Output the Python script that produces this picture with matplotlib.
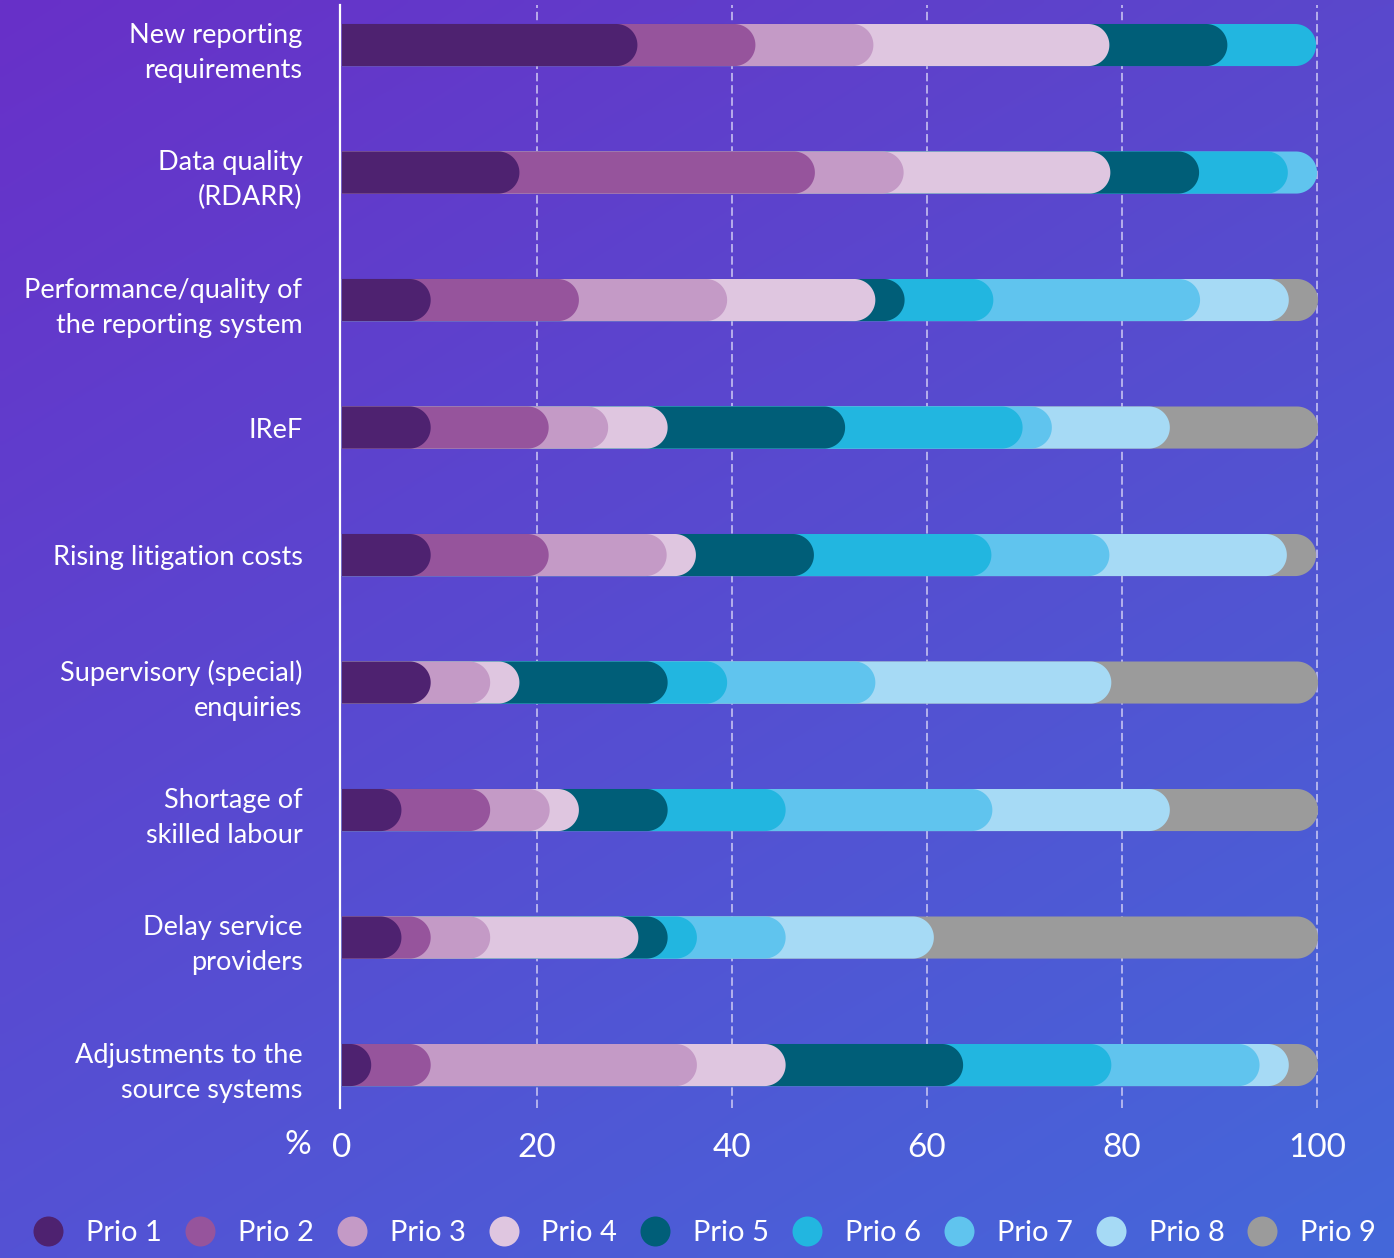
import numpy as np
import matplotlib
matplotlib.use("Agg")
import matplotlib.pyplot as plt
from matplotlib.patches import Polygon
from matplotlib.lines import Line2D
from matplotlib.transforms import ScaledTranslation

# ---- data: share of answers per priority rank (%) ----
categories = [
    "New reporting\nrequirements",
    "Data quality\n(RDARR)",
    "Performance/quality of\nthe reporting system",
    "IReF",
    "Rising litigation costs",
    "Supervisory (special)\nenquiries",
    "Shortage of\nskilled labour",
    "Delay service\nproviders",
    "Adjustments to the\nsource systems",
]
series_labels = ["Prio 1", "Prio 2", "Prio 3", "Prio 4", "Prio 5",
                 "Prio 6", "Prio 7", "Prio 8", "Prio 9"]

prio1 = [30.3, 18.2, 9.1, 9.1, 9.1, 9.1, 6.1, 6.1, 3.0]
prio2 = [12.1, 30.3, 15.2, 12.1, 12.1, 0.0, 9.1, 3.0, 6.1]
prio3 = [12.1, 9.1, 15.2, 6.1, 12.1, 6.1, 6.1, 6.1, 27.3]
prio4 = [24.2, 21.2, 15.2, 6.1, 3.0, 3.0, 3.0, 15.2, 9.1]
prio5 = [12.1, 9.1, 3.0, 18.2, 12.1, 15.2, 9.1, 3.0, 18.2]
prio6 = [9.1, 9.1, 9.1, 18.2, 18.2, 6.1, 12.1, 3.0, 15.2]
prio7 = [0.0, 3.0, 21.2, 3.0, 12.1, 15.2, 21.2, 9.1, 15.2]
prio8 = [0.0, 0.0, 9.1, 12.1, 18.2, 24.2, 18.2, 15.2, 3.0]
prio9 = [0.0, 0.0, 3.0, 15.2, 3.0, 21.2, 15.2, 39.4, 3.0]

x_ticks = [0, 20, 40, 60, 80, 100]

colors = ["#4e2270", "#96549c", "#c49ac6", "#dfc6e0", "#005e78",
          "#22b6e0", "#60c4ee", "#a6daf5", "#9b9b9b"]

series = np.array([prio1, prio2, prio3, prio4, prio5,
                   prio6, prio7, prio8, prio9])
cumulative = np.cumsum(series, axis=0)

plt.rcParams["font.family"] = ["Lato", "DejaVu Sans"]

W, H = 1394, 1258
fig = plt.figure(figsize=(W / 100, H / 100), dpi=100)

# diagonal purple -> blue background
bg = fig.add_axes([0, 0, 1, 1], zorder=-1)
tl = np.array([104, 48, 200]) / 255
tr = np.array([90, 72, 204]) / 255
bl = np.array([84, 82, 212]) / 255
br = np.array([68, 104, 218]) / 255
u = np.linspace(0, 1, 200)[None, :, None]
v = np.linspace(0, 1, 200)[:, None, None]
grad = (1 - v) * ((1 - u) * tl + u * tr) + v * ((1 - u) * bl + u * br)
bg.imshow(grad, extent=[0, 1, 0, 1], aspect="auto", interpolation="bilinear")
bg.set_axis_off()

# main plotting area
left_px, right_px, top_px, bottom_px = 340, 1320, 5, 1108
ax = fig.add_axes([left_px / W, 1 - bottom_px / H,
                   (right_px - left_px) / W, (bottom_px - top_px) / H], zorder=1)
ax.set_facecolor("none")
ax.set_xlim(-0.2, 100.3)
ax.set_ylim(8.337, -0.314)

bar_h = 0.33
# horizontal radius of the round caps, in data units, so the caps are circular
p0 = ax.transData.transform((0, 0))
p1 = ax.transData.transform((1, 1))
px_per_x = abs(p1[0] - p0[0])
px_per_y = abs(p1[1] - p0[1])
ry = bar_h / 2
rx = ry * px_per_y / px_per_x

theta = np.linspace(-np.pi / 2, np.pi / 2, 60)


def rounded_segment(y, x_end, color):
    cx = x_end - rx
    arc = np.column_stack([cx + rx * np.cos(theta), y + ry * np.sin(theta)])
    verts = np.vstack([[0, y - ry], arc, [0, y + ry]])
    ax.add_patch(Polygon(verts, closed=True, facecolor=color,
                         edgecolor="none", zorder=3))


for row in range(len(categories)):
    # later ranks go underneath so each rank's rounded end overlaps the next one
    for k in range(len(series_labels) - 1, -1, -1):
        if series[k, row] <= 0:
            continue
        rounded_segment(row, cumulative[k, row], colors[k])

# axes styling
for side in ["top", "right", "bottom"]:
    ax.spines[side].set_visible(False)
ax.spines["left"].set_color("white")
ax.spines["left"].set_linewidth(1.6)
ax.spines["left"].set_zorder(4)

ax.set_yticks(range(len(categories)))
ax.set_yticklabels(categories, fontsize=19.5, color="white", linespacing=1.5)
lift = ScaledTranslation(0, 0.04, fig.dpi_scale_trans)
for lbl in ax.get_yticklabels():
    lbl.set_transform(lbl.get_transform() + lift)
ax.set_xticks(x_ticks)
ax.set_xticklabels([str(t) for t in x_ticks], fontsize=24, color="white")
ax.tick_params(axis="y", length=0, pad=27)
ax.tick_params(axis="x", length=0, pad=18)

ax.xaxis.grid(True, color="#dcd8f8", linewidth=1.1, linestyle=(0, (5.5, 2.5)),
              alpha=0.9)
ax.set_axisbelow(True)
ax.get_xgridlines()[0].set_visible(False)

fig.text(298 / W, 1 - 1145 / H, "%", fontsize=24, color="white",
         ha="center", va="center")

handles = [Line2D([], [], marker="o", linestyle="", markersize=21.6,
                  markerfacecolor=c, markeredgewidth=0) for c in colors]
leg = fig.legend(handles, series_labels, loc="center",
                 bbox_to_anchor=(0.5 + 8 / W, 1 - 1233 / H), ncol=9,
                 frameon=False, fontsize=21, handlelength=1.0,
                 handletextpad=0.8, columnspacing=0.8, borderpad=0)
for t in leg.get_texts():
    t.set_color("white")

fig.savefig("out.png", dpi=100)
